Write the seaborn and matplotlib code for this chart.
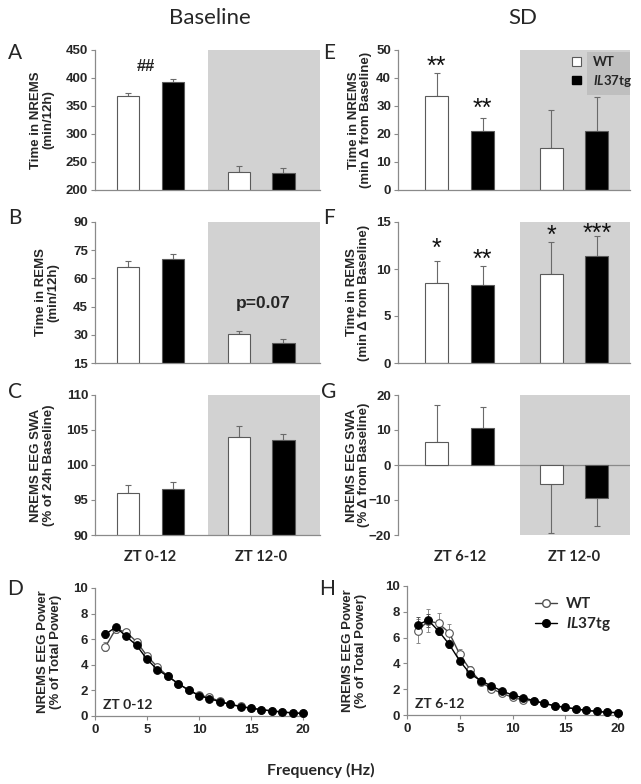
import numpy as np
import pandas as pd
import matplotlib
matplotlib.use("Agg")
import matplotlib.pyplot as plt
import seaborn as sns
from matplotlib.patches import Patch, Rectangle
from matplotlib.lines import Line2D
from matplotlib.transforms import Bbox

sns.set_theme(style="white")
plt.rcParams['font.family'] = ['Liberation Sans', 'DejaVu Sans']
plt.rcParams['mathtext.fontset'] = 'custom'
plt.rcParams['mathtext.it'] = 'Lato:italic:bold'
plt.rcParams['mathtext.rm'] = 'Lato:bold'
plt.rcParams['mathtext.bf'] = 'Lato:bold'

# ---------------- data ----------------
genotypes = ['WT', 'IL37tg']
periods_base = ['ZT 0-12', 'ZT 12-0']
periods_sd = ['ZT 6-12', 'ZT 12-0']

# A: Time in NREMS (min/12h), baseline
a_wt = [368, 233]; a_wt_err = [5, 10]
a_il = [392, 231]; a_il_err = [7, 9]
# B: Time in REMS (min/12h), baseline
b_wt = [66, 30.3]; b_wt_err = [3, 1.7]
b_il = [70.5, 25.8]; b_il_err = [2.5, 1.8]
# C: NREMS EEG SWA (% of 24h baseline)
c_wt = [96, 104]; c_wt_err = [1.2, 1.5]
c_il = [96.5, 103.5]; c_il_err = [1.0, 0.9]
# E: NREMS change after SD
e_wt = [33.5, 15]; e_wt_err = [8.2, 13.5]
e_il = [21, 21]; e_il_err = [4.8, 12.2]
e_stars_wt = ['**', '']; e_stars_il = ['**', '']
e_star_y_wt = [46.4, 0]; e_star_y_il = [31.4, 0]
# F: REMS change after SD
f_wt = [8.5, 9.5]; f_wt_err = [2.4, 3.4]
f_il = [8.35, 11.4]; f_il_err = [1.95, 2.1]
f_stars_wt = ['*', '*']; f_stars_il = ['**', '***']
f_star_y_wt = [12.9, 14.3]; f_star_y_il = [11.7, 14.5]
# G: SWA change after SD
g_wt = [6.7, -5.3]; g_wt_err = [10.5, 14.0]
g_il = [10.5, -9.4]; g_il_err = [6.0, 7.9]

# D / H: EEG spectra
freq = list(range(1, 21))
d_wt = [5.4, 6.8, 6.55, 5.8, 4.7, 3.83, 3.12, 2.53, 2.03, 1.62, 1.47, 1.15, 0.92, 0.75, 0.62, 0.5, 0.4, 0.32, 0.24, 0.21]
d_il = [6.38, 6.95, 6.22, 5.52, 4.43, 3.62, 3.1, 2.53, 2.03, 1.6, 1.35, 1.12, 0.9, 0.74, 0.6, 0.5, 0.39, 0.31, 0.24, 0.2]
d_wt_err = [0.35, 0.3, 0.25, 0.2, 0.2, 0.15, 0.1, 0.08, 0.06, 0.05, 0.05, 0.04, 0.03, 0.03, 0.02, 0.02, 0.02, 0.02, 0.01, 0.01]
d_il_err = [0.3, 0.25, 0.2, 0.2, 0.15, 0.12, 0.1, 0.08, 0.06, 0.05, 0.04, 0.04, 0.03, 0.03, 0.02, 0.02, 0.02, 0.02, 0.01, 0.01]
h_wt = [6.5, 7.3, 7.1, 6.38, 4.7, 3.49, 2.56, 2.04, 1.68, 1.37, 1.16, 1.1, 0.9, 0.72, 0.59, 0.47, 0.36, 0.28, 0.21, 0.18]
h_il = [6.98, 7.36, 6.5, 5.48, 4.19, 3.18, 2.66, 2.25, 1.86, 1.55, 1.34, 1.12, 0.9, 0.72, 0.59, 0.47, 0.36, 0.28, 0.21, 0.18]
h_wt_err = [0.95, 0.9, 0.8, 0.7, 0.4, 0.3, 0.15, 0.1, 0.08, 0.06, 0.05, 0.04, 0.03, 0.03, 0.02, 0.02, 0.02, 0.02, 0.01, 0.01]
h_il_err = [0.6, 0.5, 0.3, 0.3, 0.2, 0.15, 0.12, 0.1, 0.08, 0.06, 0.05, 0.04, 0.03, 0.03, 0.02, 0.02, 0.02, 0.02, 0.01, 0.01]

SHADE = '#d2d2d2'
SPINE = '#8a8a8a'
EDGE = '#5a5a5a'
CAL = 'Lato'
TICK_FS = 9.5
LAB_FS = 9.5

fig = plt.figure(figsize=(6.41, 7.84), dpi=100)

def fr(l, t, r, b):
    W, H = 641, 784
    return [l / W, 1 - b / H, (r - l) / W, (b - t) / H]

axA = fig.add_axes(fr(95, 50, 320, 190))
axB = fig.add_axes(fr(95, 222, 320, 363))
axC = fig.add_axes(fr(95, 395, 320, 535))
axE = fig.add_axes(fr(398, 50, 630, 190))
axF = fig.add_axes(fr(398, 222, 630, 363))
axG = fig.add_axes(fr(398, 395, 630, 535))
axD = fig.add_axes(fr(95, 588, 303, 716))
axH = fig.add_axes(fr(407, 586, 618, 715))


def style_axes(ax, ylim, yticks, labelx):
    ax.set_ylim(*ylim)
    ax.set_yticks(yticks)
    for s in ['top', 'right']:
        ax.spines[s].set_visible(False)
    for s in ['left', 'bottom']:
        ax.spines[s].set_color(SPINE)
        ax.spines[s].set_linewidth(0.9)
    ax.tick_params(axis='y', direction='out', length=3, width=0.8, color=SPINE,
                   labelsize=TICK_FS, pad=2, left=True)
    for t in ax.get_yticklabels():
        t.set_fontweight('bold')
    ax.yaxis.set_label_coords(labelx, 0.5)


def bar_panel(ax, periods, wt, wt_err, il, il_err, ylim, yticks, xlim, shade_from,
              ylabel, labelx, show_x=False, zero_line=False):
    df = pd.DataFrame({
        'period': periods + periods,
        'genotype': ['WT'] * len(periods) + ['IL37tg'] * len(periods),
        'value': wt + il,
    })
    ax.axvspan(shade_from, xlim[1], color=SHADE, zorder=0, lw=0)
    sns.barplot(data=df, x='period', y='value', hue='genotype', order=periods,
                hue_order=genotypes, palette={'WT': 'white', 'IL37tg': 'black'},
                edgecolor=EDGE, linewidth=0.8, width=0.8, gap=0.5, errorbar=None,
                legend=False, ax=ax, zorder=2)
    for cont, errs, vals in zip(ax.containers, [wt_err, il_err], [wt, il]):
        for bar, e, v in zip(cont, errs, vals):
            x = bar.get_x() + bar.get_width() / 2
            yerr = [[0], [e]] if v >= 0 else [[e], [0]]
            ax.errorbar([x], [v], yerr=yerr, fmt='none', ecolor='#6a6a6a',
                        elinewidth=0.8, capsize=2.5, capthick=0.8, zorder=1.5)
    ax.set_xlim(*xlim)
    style_axes(ax, ylim, yticks, labelx)
    ax.set_ylabel(ylabel, fontsize=LAB_FS, fontweight='bold', linespacing=1.05)
    ax.set_xlabel('')
    ax.tick_params(axis='x', length=0, pad=11)
    if show_x:
        ax.set_xticks(range(len(periods)))
        ax.set_xticklabels(periods, fontfamily=CAL, fontweight='bold', fontsize=10.5)
    else:
        ax.set_xticklabels([])
    if zero_line:
        ax.spines['bottom'].set_visible(False)
        ax.axhline(0, color=SPINE, lw=0.9, zorder=1)


def stars(ax, labels_wt, y_wt, labels_il, y_il):
    for cont, labs, ys in zip(ax.containers, [labels_wt, labels_il], [y_wt, y_il]):
        for bar, lab, y in zip(cont, labs, ys):
            if lab:
                x = bar.get_x() + bar.get_width() / 2
                ax.annotate(lab, (x, y), xytext=(0, -10), textcoords='offset points',
                            ha='center', va='baseline', fontsize=18, color='#111')


XL_L = (-0.5, 1.53)
XL_R = (-0.54, 1.49)

bar_panel(axA, periods_base, a_wt, a_wt_err, a_il, a_il_err, (200, 450),
          [200, 250, 300, 350, 400, 450], XL_L, 0.52, 'Time in NREMS\n(min/12h)', -0.18)
axA.text(-0.04, 420, '##', ha='center', va='center', fontsize=12, fontweight='bold')

bar_panel(axB, periods_base, b_wt, b_wt_err, b_il, b_il_err, (15, 90),
          [15, 30, 45, 60, 75, 90], XL_L, 0.52, 'Time in REMS\n(min/12h)', -0.16)
axB.text(1.02, 46.4, 'p=0.07', ha='center', va='center', fontsize=12.5, fontweight='bold')

bar_panel(axC, periods_base, c_wt, c_wt_err, c_il, c_il_err, (90, 110),
          [90, 95, 100, 105, 110], XL_L, 0.52,
          'NREMS EEG SWA\n(% of 24h Baseline)', -0.18, show_x=True)

bar_panel(axE, periods_sd, e_wt, e_wt_err, e_il, e_il_err, (0, 50),
          [0, 10, 20, 30, 40, 50], XL_R, 0.53,
          'Time in NREMS\n(min \u0394 from Baseline)', -0.11)
stars(axE, e_stars_wt, e_star_y_wt, e_stars_il, e_star_y_il)
leg = axE.legend(handles=[Patch(facecolor='white', edgecolor=EDGE, lw=0.8),
                          Patch(facecolor='black', edgecolor='black')],
                 labels=['WT', r'$\mathit{IL37}$tg'], loc='upper left',
                 bbox_to_anchor=(0.735, 0.985), frameon=False,
                 handlelength=0.65, handleheight=0.65, handletextpad=0.9,
                 borderpad=0.3, borderaxespad=0, labelspacing=0.35,
                 prop={'family': CAL, 'size': 9.5, 'weight': 'bold'})
leg.set_zorder(5)

bar_panel(axF, periods_sd, f_wt, f_wt_err, f_il, f_il_err, (0, 15),
          [0, 5, 10, 15], XL_R, 0.53,
          'Time in REMS\n(min \u0394 from Baseline)', -0.12)
stars(axF, f_stars_wt, f_star_y_wt, f_stars_il, f_star_y_il)

bar_panel(axG, periods_sd, g_wt, g_wt_err, g_il, g_il_err, (-20, 20),
          [-20, -10, 0, 10, 20], XL_R, 0.53,
          'NREMS EEG SWA\n(% \u0394 from Baseline)', -0.12, show_x=True, zero_line=True)


def spectrum_panel(ax, wt, wt_err, il, il_err, label, ylabel, labelx, legend=False):
    ax.errorbar(freq, wt, yerr=wt_err, fmt='none', ecolor='#8a8a8a', elinewidth=0.7,
                capsize=1.5, capthick=0.7, zorder=1)
    ax.errorbar(freq, il, yerr=il_err, fmt='none', ecolor='#555', elinewidth=0.7,
                capsize=1.5, capthick=0.7, zorder=1)
    sns.lineplot(x=freq, y=wt, ax=ax, color='#444', lw=1.0, marker='o', markersize=5.5,
                 markerfacecolor='white', markeredgecolor='#555', markeredgewidth=0.8,
                 zorder=2, clip_on=False)
    sns.lineplot(x=freq, y=il, ax=ax, color='black', lw=1.0, marker='o', markersize=5.5,
                 markerfacecolor='black', markeredgecolor='black', zorder=3, clip_on=False)
    ax.set_xlim(0, 20)
    ax.set_xticks([0, 5, 10, 15, 20])
    style_axes(ax, (0, 10), [0, 2, 4, 6, 8, 10], labelx)
    ax.tick_params(axis='x', direction='out', length=3, width=0.8, color=SPINE,
                   labelsize=TICK_FS, pad=3, bottom=True)
    for t in ax.get_xticklabels():
        t.set_fontweight('bold')
    ax.set_ylabel(ylabel, fontsize=LAB_FS, fontweight='bold', linespacing=1.05)
    ax.text(0.8, 0.85, label, fontfamily=CAL, fontsize=10, fontweight='bold',
            ha='left', va='center')
    if legend:
        handles = [Line2D([], [], color='#444', lw=1.0, marker='o', markersize=5.5,
                          markerfacecolor='white', markeredgecolor='#555'),
                   Line2D([], [], color='black', lw=1.0, marker='o', markersize=5.5,
                          markerfacecolor='black')]
        ax.legend(handles=handles, labels=['WT', r'$\mathit{IL37}$tg'],
                  loc='upper right', bbox_to_anchor=(1.03, 1.02), frameon=False,
                  handlelength=1.4, handletextpad=0.6, labelspacing=0.25,
                  prop={'family': CAL, 'size': 11, 'weight': 'bold'})


spectrum_panel(axD, d_wt, d_wt_err, d_il, d_il_err, 'ZT 0-12',
               'NREMS EEG Power\n(% of Total Power)', -0.16)
spectrum_panel(axH, h_wt, h_wt_err, h_il, h_il_err, 'ZT 6-12',
               'NREMS EEG Power\n(% of Total Power)', -0.19, legend=True)

# headers, panel letters, shared x label
fig.text(210 / 641, 1 - 18 / 784, 'Baseline', fontfamily=CAL, fontsize=16,
         ha='center', va='center')
fig.text(523 / 641, 1 - 18 / 784, 'SD', fontfamily=CAL, fontsize=16,
         ha='center', va='center')
for letter, x, y in [('A', 15, 53), ('B', 15, 218), ('C', 15, 392), ('D', 15, 589),
                     ('E', 329, 53), ('F', 329, 218), ('G', 329, 392), ('H', 327, 589)]:
    fig.text(x / 641, 1 - y / 784, letter, fontfamily=CAL, fontsize=15,
             ha='center', va='center')
fig.text(0.5, 1 - 770 / 784, 'Frequency (Hz)', fontfamily=CAL, fontsize=11.5,
         fontweight='bold', ha='center', va='center')

# darker backdrop behind the E legend texts, sized from the rendered texts
fig.canvas.draw()
renderer = fig.canvas.get_renderer()
tb = Bbox.union([t.get_window_extent(renderer) for t in leg.get_texts()])
tb = tb.expanded(1.0, 1.0)
inv = axE.transAxes.inverted()
(x0, y0), (x1, y1) = inv.transform([[tb.x0 - 6, tb.y0 - 6], [tb.x1 + 6, tb.y1 + 4]])
x1 = min(x1, 1.0)
y1 = min(y1, 1.0)
axE.add_patch(Rectangle((x0, y0), x1 - x0, y1 - y0, transform=axE.transAxes,
                        facecolor='#bfbfbf', edgecolor='none', zorder=3))

fig.savefig('out.png', dpi=100)
